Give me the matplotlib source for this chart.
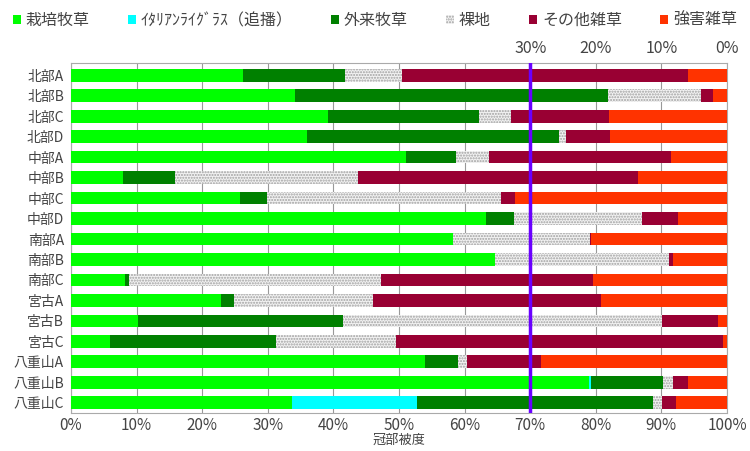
import matplotlib
matplotlib.use("Agg")
import matplotlib.pyplot as plt
import numpy as np
from matplotlib.patches import Patch

plt.rcParams['font.family'] = ['Noto Sans CJK JP', 'DejaVu Sans']
plt.rcParams['hatch.linewidth'] = 1.0

categories = ["北部A", "北部B", "北部C", "北部D", "中部A", "中部B", "中部C", "中部D",
              "南部A", "南部B", "南部C", "宮古A", "宮古B", "宮古C", "八重山A", "八重山B", "八重山C"]

series_names = ["栽培牧草", "ｲﾀﾘｱﾝﾗｲｸﾞﾗｽ（追播）", "外来牧草", "裸地", "その他雑草", "強害雑草"]

cultivated = [26.2, 34.2, 39.2, 35.9, 51.0, 7.9, 25.7, 63.3, 58.2, 64.7, 8.3, 22.8, 10.2, 5.9, 53.9, 79.0, 33.7]
italian    = [0, 0, 0, 0, 0, 0, 0, 0, 0, 0, 0, 0, 0, 0, 0, 0.3, 19.0]
exotic     = [15.5, 47.6, 23.0, 38.5, 7.7, 8.0, 4.2, 4.3, 0, 0, 0.6, 2.1, 31.3, 25.4, 5.1, 10.9, 36.0]
bare       = [8.8, 14.2, 4.9, 1.0, 5.0, 27.8, 35.6, 19.4, 20.9, 26.4, 38.3, 21.1, 48.6, 18.2, 1.3, 1.6, 1.4]
other_weed = [43.5, 1.8, 14.9, 6.7, 27.7, 42.8, 2.2, 5.6, 0.2, 0.7, 32.3, 34.8, 8.6, 49.9, 11.4, 2.3, 2.2]
noxious    = [6.0, 2.2, 18.0, 17.9, 8.6, 13.5, 32.3, 7.4, 20.7, 8.2, 20.5, 19.2, 1.3, 0.6, 28.3, 5.9, 7.7]

bottom_ticks = [0, 10, 20, 30, 40, 50, 60, 70, 80, 90, 100]
top_ticks = [70, 80, 90, 100]
top_labels = ["30%", "20%", "10%", "0%"]
threshold = 70

colors = ["#00FF00", "#00FFFF", "#008000", "#f2f2f2", "#990033", "#FF3300"]

fig = plt.figure(figsize=(7.5, 4.51), dpi=100)
ax = fig.add_axes([71/750, 1-413/451, 656/750, 350/451])

data = [cultivated, italian, exotic, bare, other_weed, noxious]
y = np.arange(len(categories))
left = np.zeros(len(categories))
h = 0.62
for name, vals, c in zip(series_names, data, colors):
    vals = np.array(vals)
    if name == "裸地":
        ax.barh(y, vals, left=left, height=h, color=c, edgecolor="#a0a0a0",
                hatch="......", linewidth=0, zorder=3)
    else:
        ax.barh(y, vals, left=left, height=h, color=c, linewidth=0, zorder=3)
    left += vals

ax.set_xlim(0, 100)
ax.set_ylim(len(categories) - 0.5, -0.6)
ax.set_yticks(y)
ax.set_yticklabels(categories, fontsize=10, color="#444444")
ax.set_xticks(bottom_ticks)
ax.set_xticklabels([f"{t}%" for t in bottom_ticks], fontsize=11, color="#444444")
ax.tick_params(axis="x", length=0, pad=3)
ax.tick_params(axis="y", length=0, pad=5)
ax.grid(axis="x", color="#999999", linewidth=0.8, zorder=0)
for s in ax.spines.values():
    s.set_color("#aaaaaa")
ax.axvline(threshold, color="#6A00FF", linewidth=2.5, zorder=5)
ax.set_xlabel("冠部被度", fontsize=9.5, color="#444444", labelpad=0)

ax2 = ax.twiny()
ax2.set_xlim(0, 100)
ax2.set_xticks(top_ticks)
ax2.set_xticklabels(top_labels, fontsize=11.5, color="#444444")
ax2.tick_params(length=0, pad=4)
for s in ax2.spines.values():
    s.set_visible(False)

handles = []
for name, c in zip(series_names, colors):
    if name == "裸地":
        handles.append(Patch(facecolor=c, edgecolor="#a0a0a0", hatch="......", linewidth=0, label=name))
    else:
        handles.append(Patch(facecolor=c, linewidth=0, label=name))
fig.legend(handles=handles, loc="upper center", bbox_to_anchor=(0.5, 1.005), ncol=6,
           frameon=False, fontsize=11.5, handlelength=0.5, handleheight=0.5,
           handletextpad=0.3, columnspacing=2.4, labelcolor="#444444")

fig.savefig("out.png", dpi=100)
